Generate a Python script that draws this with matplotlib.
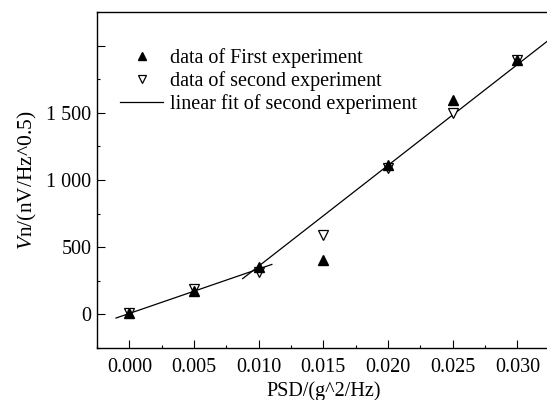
import numpy as np
import matplotlib
matplotlib.use('Agg')
import matplotlib.pyplot as plt
from matplotlib.ticker import FuncFormatter, MultipleLocator

#plot parameter things:
fontsize = 14.5
lbl_size = 14.5
ylbl_size = 15.5
lgd_size = 14.5
mrks = 7
lw = 0.9
matplotlib.rcParams.update({'font.size': fontsize,
                            'font.family': 'Liberation Serif',
                            'mathtext.fontset': 'custom',
                            'mathtext.rm': 'Liberation Serif',
                            'mathtext.it': 'Liberation Serif:italic'})

# data
psd = [0.000, 0.005, 0.010, 0.015, 0.020, 0.025, 0.030]
vn_first = [10, 173, 352, 402, 1109, 1597, 1890]
vn_second = [10, 188, 315, 588, 1091, 1498, 1890]

# linear fit pieces of second experiment: (x start, x end, slope, intercept)
fit_low = (-0.00103, 0.01102, 33100.0, 7.0)
fit_high = (0.00876, 0.0330, 75000.0, -391.0)


def fitLine(seg):
    x = np.array(seg[:2])
    return x, seg[2] * x + seg[3]


def plotVn():

    fig = plt.figure(figsize=(5.47, 4.0), dpi=100)
    ax = fig.add_axes([97 / 547, 52 / 400, 454 / 547, 336 / 400])

    # filled triangles drawn on top of the open ones
    ax.plot(psd, vn_first, '^', color='black', markersize=mrks, zorder=4,
            label='data of First experiment')
    ax.plot(psd, vn_second, 'v', color='black', markerfacecolor='white',
            markersize=mrks, markeredgewidth=0.9, zorder=3,
            label='data of second experiment')

    x, y = fitLine(fit_low)
    ax.plot(x, y, '-', color='black', linewidth=lw,
            label='linear fit of second experiment')
    x, y = fitLine(fit_high)
    ax.plot(x, y, '-', color='black', linewidth=lw)

    ax.set_xlim(-0.0025, 0.0326)
    ax.set_ylim(-250, 2250)

    ax.xaxis.set_major_locator(MultipleLocator(0.005))
    ax.xaxis.set_minor_locator(MultipleLocator(0.0025))
    ax.yaxis.set_major_locator(MultipleLocator(500))
    ax.yaxis.set_minor_locator(MultipleLocator(250))

    def yfmt(v, pos):
        if v < 0 or v > 1500:
            return ''
        s = '{0:,.0f}'.format(v)
        return s.replace(',', ' ')

    ax.yaxis.set_major_formatter(FuncFormatter(yfmt))
    ax.xaxis.set_major_formatter(FuncFormatter(lambda v, p: '{0:.3f}'.format(abs(v) if abs(v) < 1e-9 else v)))

    ax.tick_params(which='both', direction='in', width=0.8, top=False, right=False,
                   labelsize=lbl_size)
    ax.tick_params(which='major', length=5.5)
    ax.tick_params(axis='x', which='major', pad=7)
    ax.tick_params(axis='y', which='major', pad=4)
    ax.tick_params(which='minor', length=2.5)

    ax.set_xlabel('PSD/(g^2/Hz)', fontsize=lbl_size, labelpad=3)
    ax.set_ylabel(r'$\mathit{V}$n/(nV/Hz^0.5)', fontsize=ylbl_size, labelpad=5)

    for sp in ax.spines.values():
        sp.set_linewidth(1.0)

    ax.legend(loc='upper left', bbox_to_anchor=(0.011, 0.946), frameon=False,
              handlelength=2.15, labelspacing=0.15, handletextpad=0.35,
              borderpad=0.4, fontsize=lgd_size, markerscale=0.8)

    fig.savefig('out.png', dpi=100)


if __name__ == "__main__":

    plotVn()
